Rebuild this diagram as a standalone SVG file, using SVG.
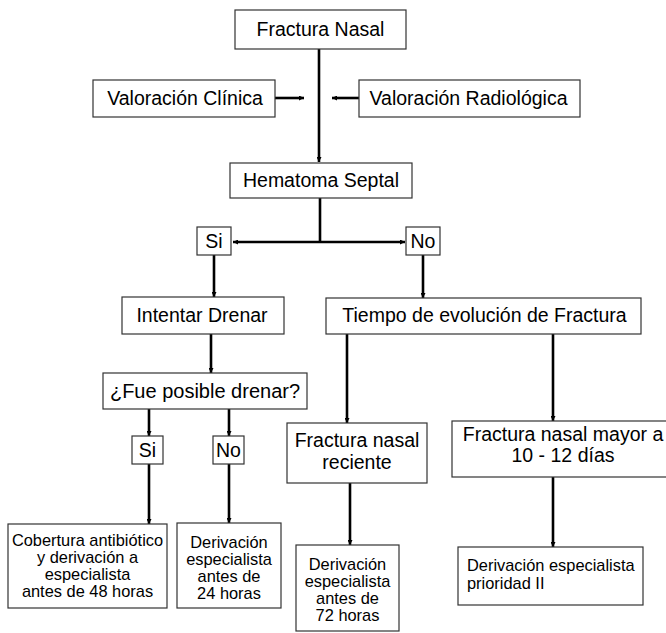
<svg xmlns="http://www.w3.org/2000/svg" width="666" height="633" viewBox="0 0 666 633">
<defs>
<marker id="ah" viewBox="0 0 6 6" refX="6" refY="3" markerWidth="6" markerHeight="5" markerUnits="userSpaceOnUse" orient="auto"><path d="M0,0 L6,3 L0,6 z" fill="#000"/></marker>
<style>
.box{fill:#fff;stroke:#333;stroke-width:1.2}
.t{font-family:"Liberation Sans",Arial,sans-serif;font-size:19.5px;fill:#000;text-anchor:middle}
.s{font-family:"Liberation Sans",Arial,sans-serif;font-size:16.4px;fill:#000;text-anchor:middle}
.c{fill:none;stroke:#000;stroke-width:2.6}
.a{fill:none;stroke:#000;stroke-width:2.6;marker-end:url(#ah)}
</style>
</defs>
<rect width="666" height="633" fill="#fff"/>
<g id="connectors">
<path class="a" d="M319,49 V162"/>
<path class="a" d="M275,98 H304"/>
<path class="a" d="M359,98 H332"/>
<path class="c" d="M320,198 V242"/>
<path class="a" d="M320,242 H233"/>
<path class="a" d="M320,242 H405"/>
<path class="a" d="M214,255 V297"/>
<path class="a" d="M423,255 V298"/>
<path class="a" d="M211,334 V373"/>
<path class="a" d="M149,409 V436"/>
<path class="a" d="M229,409 V436"/>
<path class="a" d="M149,464 V524"/>
<path class="a" d="M229,464 V523"/>
<path class="a" d="M347,334 V423"/>
<path class="a" d="M553,334 V421"/>
<path class="a" d="M350,483 V545"/>
<path class="a" d="M553,477 V547"/>
</g>
<g id="fractura-nasal"><rect class="box" x="235" y="10" width="171" height="39"/><text class="t" x="320.5" y="36">Fractura Nasal</text></g>
<g id="valoracion-clinica"><rect class="box" x="93" y="80" width="182" height="37"/><text class="t" x="185" y="105">Valoración Clínica</text></g>
<g id="valoracion-radiologica"><rect class="box" x="359" y="80" width="221" height="37"/><text class="t" x="468.5" y="105">Valoración Radiológica</text></g>
<g id="hematoma-septal"><rect class="box" x="230" y="163" width="182" height="35"/><text class="t" x="321" y="187">Hematoma Septal</text></g>
<g id="si-1"><rect class="box" x="197" y="227" width="34" height="28"/><text class="t" x="214" y="248">Si</text></g>
<g id="no-1"><rect class="box" x="406" y="227" width="34" height="28"/><text class="t" x="423" y="248">No</text></g>
<g id="intentar-drenar"><rect class="box" x="122" y="297" width="162" height="37"/><text class="t" x="202" y="322">Intentar Drenar</text></g>
<g id="tiempo-evolucion"><rect class="box" x="326" y="298" width="315" height="36"/><text class="t" x="484.5" y="322">Tiempo de evolución de Fractura</text></g>
<g id="fue-posible"><rect class="box" x="103" y="373" width="204" height="36"/><text class="t" x="205" y="398" style="font-size:20px">¿Fue posible drenar?</text></g>
<g id="si-2"><rect class="box" x="132" y="436" width="31" height="28"/><text class="t" x="147.5" y="457">Si</text></g>
<g id="no-2"><rect class="box" x="213" y="436" width="31" height="28"/><text class="t" x="228.5" y="457">No</text></g>
<g id="cobertura"><rect class="box" x="8" y="524" width="159" height="84"/><text class="s" x="87.5" y="546">Cobertura antibiótico</text><text class="s" x="87.5" y="563">y derivación a</text><text class="s" x="87.5" y="580">especialista</text><text class="s" x="87.5" y="597">antes de 48 horas</text></g>
<g id="derivacion-24"><rect class="box" x="177" y="523" width="104" height="85"/><text class="s" x="229" y="548">Derivación</text><text class="s" x="229" y="565">especialista</text><text class="s" x="229" y="582">antes de</text><text class="s" x="229" y="599">24 horas</text></g>
<g id="fractura-reciente"><rect class="box" x="287" y="423" width="140" height="60"/><text class="t" x="357" y="447">Fractura nasal</text><text class="t" x="357" y="469">reciente</text></g>
<g id="fractura-mayor"><rect class="box" x="452" y="421" width="222" height="56"/><text class="t" x="563" y="441">Fractura nasal mayor a</text><text class="t" x="563" y="462">10 - 12 días</text></g>
<g id="derivacion-72"><rect class="box" x="296" y="545" width="103" height="86"/><text class="s" x="347.5" y="570">Derivación</text><text class="s" x="347.5" y="587">especialista</text><text class="s" x="347.5" y="604">antes de</text><text class="s" x="347.5" y="621">72 horas</text></g>
<g id="derivacion-prioridad"><rect class="box" x="458" y="547" width="185" height="58"/><text class="s" x="467" y="571" style="text-anchor:start">Derivación especialista</text><text class="s" x="467" y="589" style="text-anchor:start">prioridad II</text></g>
</svg>
